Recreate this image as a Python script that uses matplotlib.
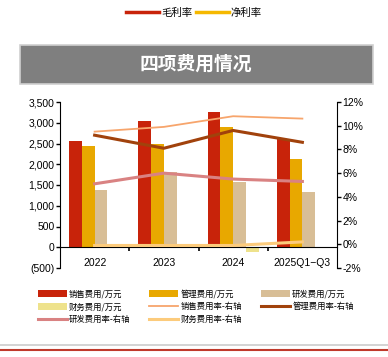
import matplotlib.pyplot as plt
import matplotlib.patches as mpatches
from matplotlib.lines import Line2D
from matplotlib.ticker import FuncFormatter, FixedLocator
import numpy as np

plt.rcParams['font.family'] = ['Liberation Sans', 'Noto Sans CJK SC', 'DejaVu Sans']

years = ['2022', '2023', '2024', '2025Q1\u2212Q3']
sales_exp = [2550, 3040, 3270, 2620]
admin_exp = [2440, 2480, 2900, 2120]
rd_exp = [1370, 1820, 1570, 1320]
fin_exp = [-30, -30, -120, 10]

sales_rate = [9.5, 9.9, 10.8, 10.6]
admin_rate = [9.2, 8.1, 9.6, 8.6]
rd_rate = [5.1, 6.0, 5.5, 5.3]
fin_rate = [-0.1, -0.1, -0.1, 0.2]

C_SALES = '#C8230A'
C_ADMIN = '#E8A800'
C_RD = '#D8BE96'
C_FIN = '#EEE28C'
C_SALES_R = '#F7A56C'
C_ADMIN_R = '#A1420C'
C_RD_R = '#D98282'
C_FIN_R = '#FCCB7C'

fig = plt.figure(figsize=(3.88, 3.57), dpi=100)

# title banner
fig.patches.append(mpatches.Rectangle((20 / 388, 1 - 84 / 357), 353 / 388, 39 / 357,
                                      transform=fig.transFigure, facecolor='#7F7F7F',
                                      edgecolor='#D0D0D0', lw=1.2))
fig.text(196 / 388, 1 - 64 / 357, '四项费用情况', color='white', fontsize=13.5,
         fontweight='bold', ha='center', va='center', family=['Noto Sans CJK SC'])

# top legend
top_h = [Line2D([], [], color='#C8230A', lw=2.5), Line2D([], [], color='#F5B800', lw=2.5)]
fig.legend(top_h, ['毛利率', '净利率'], loc='center', bbox_to_anchor=(0.5, 1 - 13 / 357),
           ncol=2, frameon=False, handlelength=3.2, handletextpad=0.2,
           columnspacing=0.3, prop={'family': 'Noto Sans CJK SC', 'size': 7.5})

ax = fig.add_axes([60 / 388, 1 - 268 / 357, 277 / 388, 166 / 357])
x = np.arange(len(years))
w = 0.185
ax.bar(x - 1.5 * w, sales_exp, w, color=C_SALES, label='销售费用/万元')
ax.bar(x - 0.5 * w, admin_exp, w, color=C_ADMIN, label='管理费用/万元')
ax.bar(x + 0.5 * w, rd_exp, w, color=C_RD, label='研发费用/万元')
ax.bar(x + 1.5 * w, fin_exp, w, color=C_FIN, label='财务费用/万元')
ax.set_xlim(-0.5, 3.5)
ax.set_ylim(-500, 3500)
ax.set_yticks(range(-500, 3501, 500))
ax.yaxis.set_major_formatter(FuncFormatter(
    lambda v, p: f'({abs(int(v)):,})' if v < 0 else f'{int(v):,}'))
ax.spines['bottom'].set_position(('data', 0))
ax.spines['top'].set_visible(False)
ax.spines['right'].set_visible(False)
ax.xaxis.set_major_locator(FixedLocator([0.5, 1.5, 2.5]))
ax.xaxis.set_minor_locator(FixedLocator(x))
ax.set_xticklabels([], minor=False)
ax.set_xticklabels(years, minor=True)
ax.tick_params(axis='x', which='major', length=3, width=1.2, direction='out')
ax.tick_params(axis='x', which='minor', length=0, pad=8, labelsize=7.5)
ax.tick_params(axis='y', length=3, width=1, labelsize=7.5, pad=1)

ax2 = ax.twinx()
ax2.plot(x, sales_rate, color=C_SALES_R, lw=1.3, label='销售费用率-右轴')
ax2.plot(x, admin_rate, color=C_ADMIN_R, lw=2.2, label='管理费用率-右轴')
ax2.plot(x, rd_rate, color=C_RD_R, lw=2.2, label='研发费用率-右轴')
ax2.plot(x, fin_rate, color=C_FIN_R, lw=2.2, label='财务费用率-右轴')
ax2.set_ylim(-2, 12)
ax2.set_yticks(range(-2, 13, 2))
ax2.yaxis.set_major_formatter(FuncFormatter(lambda v, p: f'{int(v)}%'))
ax2.spines['top'].set_visible(False)
ax2.spines['left'].set_visible(False)
ax2.spines['bottom'].set_visible(False)
ax2.tick_params(axis='y', length=3, width=1, labelsize=7.5, pad=1)

h1, l1 = ax.get_legend_handles_labels()
h2, l2 = ax2.get_legend_handles_labels()
hs = h1 + h2
ls = l1 + l2
order = [0, 3, 6, 1, 4, 7, 2, 5]
fig.legend([hs[i] for i in order], [ls[i] for i in order], loc='upper left',
           bbox_to_anchor=(30 / 388, 1 - 282 / 357), ncol=3, frameon=False,
           handlelength=3.5, handleheight=0.9, handletextpad=0.3, columnspacing=2.2,
           labelspacing=0.45, prop={'family': 'Noto Sans CJK SC', 'size': 6})

# footer rules
fig.add_artist(Line2D([0, 1], [1 - 345 / 357] * 2, transform=fig.transFigure,
                      color='#CCCCCC', lw=1.2))
fig.add_artist(Line2D([0, 1], [1 - 350 / 357] * 2, transform=fig.transFigure,
                      color='#C0392B', lw=1.5))

fig.savefig('out.png', dpi=100)
